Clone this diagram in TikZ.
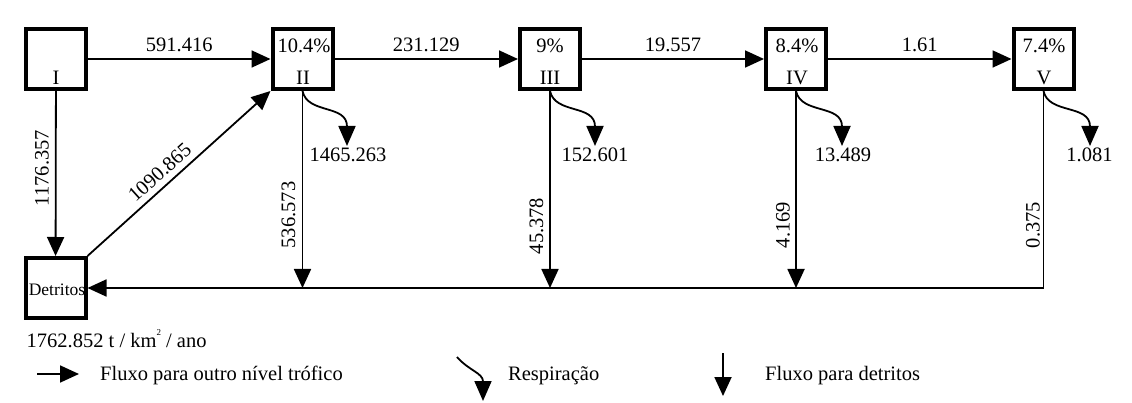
\documentclass[tikz,border=0pt]{standalone}
\usepackage{fontspec}
\setmainfont{Liberation Serif}
\usetikzlibrary{arrows.meta,calc}
\newcommand\fsA{\fontsize{20.5}{24}\selectfont}
\newcommand\fsB{\fontsize{17.5}{20}\selectfont}
\newcommand\tinysup[1]{\raisebox{0.55em}{\fontsize{9}{9}\selectfont #1}}
\begin{document}
\begin{tikzpicture}[x=1pt,y=-1pt,
  box/.style={draw, line width=4pt, minimum size=60pt, inner sep=0pt},
  flow/.style={line width=1.8pt, -{Triangle[length=19pt,width=17pt]}},
  resp/.style={line width=1.8pt, -{Triangle[length=20pt,width=17pt]}},
  lbl/.style={font=\fsA, inner sep=0pt},
  vlbl/.style={font=\fsA, inner sep=0pt, rotate=90, anchor=south}]
\useasboundingbox (0,0) rectangle (1132,403);
% boxes
\node[box] (I) at (56,59) {};
\node[box] (II) at (302.5,59) {};
\node[box] (III) at (550,59) {};
\node[box] (IV) at (796,59) {};
\node[box] (V) at (1043.5,59) {};
\node[box] (D) at (55.5,288) {};
% box texts
\node[lbl] (Ia) at (56,78) {I};
\node[lbl] (IIp) at (304,46) {10.4\%};
\node[lbl] (IIa) at (303,78) {II};
\node[lbl] (IIIp) at (550,46) {9\%};
\node[lbl] (IIIa) at (550,78) {III};
\node[lbl] (IVp) at (797,46) {8.4\%};
\node[lbl] (IVa) at (797,78) {IV};
\node[lbl] (Vp) at (1044,46) {7.4\%};
\node[lbl] (Va) at (1044,78) {V};
\node[font=\fsB, inner sep=0pt] (Dt) at (57,290) {Detritos};
% trophic flows
\draw[flow] (I) -- (II) node[lbl, midway, above, inner sep=6pt] (f12) {591.416};
\draw[flow] (II) -- (III) node[lbl, midway, above, inner sep=6pt] (f23) {231.129};
\draw[flow] (III) -- (IV) node[lbl, midway, above, inner sep=6pt] (f34) {19.557};
\draw[flow] (IV) -- (V) node[lbl, midway, above, inner sep=6pt] (f45) {1.61};
% I to detritus and detritus to II
\draw[flow] (I) -- (D);
\node[vlbl] (l1D) at (49,168) {1176.357};
\draw[flow] (D.north east) -- (II.south west)
  node[lbl, pos=0.445, sloped, above, inner sep=6pt] (lD2) {1090.865};
% respiration
\coordinate (r2) at (347,146);
\coordinate (r3) at (595,146);
\coordinate (r4) at (842,146);
\coordinate (r5) at (1090,146);
\draw[resp] (II.south) to[out=-78,in=90,out distance=24pt,in distance=42pt] (r2);
\draw[resp] (III.south) to[out=-78,in=90,out distance=24pt,in distance=42pt] (r3);
\draw[resp] (IV.south) to[out=-78,in=90,out distance=24pt,in distance=42pt] (r4);
\draw[resp] (V.south) to[out=-78,in=90,out distance=24pt,in distance=42pt] (r5);
\node[lbl, anchor=north] (t2) at (348,148) {1465.263};
\node[lbl, anchor=north] (t3) at (595,148) {152.601};
\node[lbl, anchor=north] (t4) at (843,148) {13.489};
\node[lbl, anchor=north] (t5) at (1089.5,148) {1.081};
% flows to detritus
\coordinate (b2) at (II.south |- D.east);
\coordinate (b3) at (III.south |- D.east);
\coordinate (b4) at (IV.south |- D.east);
\draw[flow] (II) -- (b2);
\draw[flow] (III) -- (b3);
\draw[flow] (IV) -- (b4);
\draw[flow] (V) |- (D);
\node[vlbl] (l2D) at (295.5,215) {536.573};
\node[vlbl] (l3D) at (543.5,226) {45.378};
\node[vlbl] (l4D) at (790,225) {4.169};
\node[vlbl] (l5D) at (1040,225) {0.375};
% unit
\node[lbl, anchor=base west] (unit) at (26.5,347) {1762.852 t / km\tinysup{2} / ano};
% legend
\coordinate (la1) at (37,374);
\coordinate (la2) at (79,374);
\draw[flow] (la1) -- (la2);
\node[lbl, anchor=base west] (lt1) at (100,380) {Fluxo para outro nível trófico};
\coordinate (lr1) at (457,357);
\coordinate (lr2) at (483,401);
\draw[resp] (lr1) to[out=-49,in=90,out distance=18pt,in distance=28pt] (lr2);
\node[lbl, anchor=base west] (lt2) at (508,380) {Respiração};
\coordinate (ld1) at (723,353);
\coordinate (ld2) at (723,396);
\draw[flow] (ld1) -- (ld2);
\node[lbl, anchor=base west] (lt3) at (765,380) {Fluxo para detritos};
\end{tikzpicture}
\end{document}
